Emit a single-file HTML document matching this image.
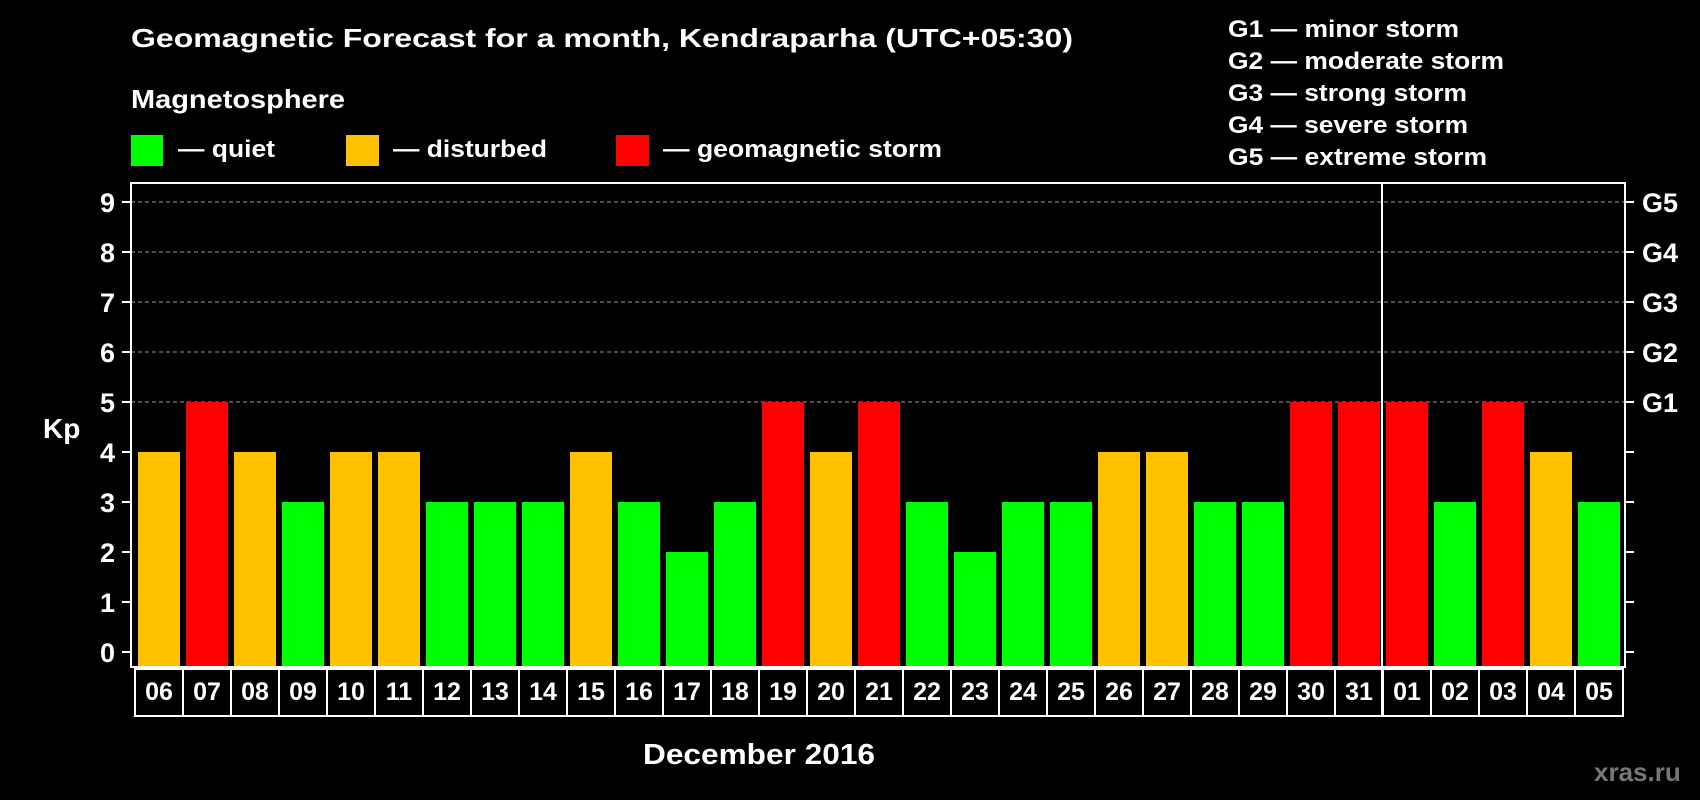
<!DOCTYPE html>
<html><head><meta charset="utf-8"><style>
html,body{margin:0;padding:0;background:#000;}
svg{display:block;font-family:"Liberation Sans",Arial,sans-serif;font-weight:bold;}
</style></head><body>
<svg id="chart" width="1700" height="800" viewBox="0 0 1700 800" xmlns="http://www.w3.org/2000/svg">
<rect width="1700" height="800" fill="#000"/>
<text x="131" y="47" font-size="26" fill="#fff" textLength="942" lengthAdjust="spacingAndGlyphs">Geomagnetic Forecast for a month, Kendraparha (UTC+05:30)</text>
<text x="131" y="108" font-size="26" fill="#fff" textLength="214" lengthAdjust="spacingAndGlyphs">Magnetosphere</text>
<rect x="131" y="135" width="32" height="31" fill="#00ff00"/>
<text x="178" y="157" font-size="24" fill="#fff" textLength="97" lengthAdjust="spacingAndGlyphs">— quiet</text>
<rect x="346" y="135" width="33" height="31" fill="#ffc000"/>
<text x="393" y="157" font-size="24" fill="#fff" textLength="154" lengthAdjust="spacingAndGlyphs">— disturbed</text>
<rect x="616" y="135" width="33" height="31" fill="#ff0000"/>
<text x="663" y="157" font-size="24" fill="#fff" textLength="279" lengthAdjust="spacingAndGlyphs">— geomagnetic storm</text>
<g font-size="24" fill="#fff">
<text x="1228" y="37" textLength="231" lengthAdjust="spacingAndGlyphs">G1 — minor storm</text>
<text x="1228" y="69" textLength="276" lengthAdjust="spacingAndGlyphs">G2 — moderate storm</text>
<text x="1228" y="101" textLength="239" lengthAdjust="spacingAndGlyphs">G3 — strong storm</text>
<text x="1228" y="133" textLength="240" lengthAdjust="spacingAndGlyphs">G4 — severe storm</text>
<text x="1228" y="165" textLength="259" lengthAdjust="spacingAndGlyphs">G5 — extreme storm</text>
</g>
<g id="plot"></g>
<text x="43" y="438" font-size="28" fill="#fff">Kp</text>
<text x="643" y="764" font-size="29" fill="#fff" textLength="232" lengthAdjust="spacingAndGlyphs">December 2016</text>
<text x="1594" y="781" font-size="26" fill="#777">xras.ru</text>
</svg>
<script>
const days = ["06","07","08","09","10","11","12","13","14","15","16","17","18","19","20","21","22","23","24","25","26","27","28","29","30","31","01","02","03","04","05"];
const kpValues = [4,5,4,3,4,4,3,3,3,4,3,2,3,5,4,5,3,2,3,3,4,4,3,3,5,5,5,3,5,4,3];
const yTicks = [0,1,2,3,4,5,6,7,8,9];
const gLabels = ["G1","G2","G3","G4","G5"];
const gLevels = [5,6,7,8,9];
const monthBreakIndex = 26;

const NS = "http://www.w3.org/2000/svg";
const plot = document.getElementById("plot");
const fL = 131, fR = 1625, fT = 183, fB = 667;
const y0 = 652, unit = 50;
const cellL = 135, pitch = (1623 - 135) / days.length;
const yS = v => y0 - v * unit;
const xS = i => cellL + i * pitch;
function mk(tag, attrs){ const e = document.createElementNS(NS, tag); for (const k in attrs) e.setAttribute(k, attrs[k]); plot.appendChild(e); return e; }

gLevels.forEach((lv, i) => {
  const g = mk("line", {x1: fL, x2: fR, y1: yS(lv), y2: yS(lv), stroke: "#999", "stroke-width": 1, "stroke-dasharray": "4,3"});
  
  
  const t = mk("text", {x: 1642, y: yS(lv) + 10, "font-size": 27, fill: "#fff"});
  t.textContent = gLabels[i];
  
  
});
yTicks.forEach(v => {
  const tk = mk("line", {x1: 122, x2: fL, y1: yS(v), y2: yS(v), stroke: "#fff", "stroke-width": 2});
  
  
  const tr = mk("line", {x1: fR, x2: 1634, y1: yS(v), y2: yS(v), stroke: "#fff", "stroke-width": 2});
  
  
  const t = mk("text", {x: 115, y: yS(v) + 10, "font-size": 27, fill: "#fff", "text-anchor": "end"});
  t.textContent = v;
  
  
});
kpValues.forEach((v, i) => {
  const col = v >= 5 ? "#ff0000" : (v >= 4 ? "#ffc000" : "#00ff00");
  const b = mk("rect", {x: xS(i) + 3, y: yS(v), width: pitch - 6, height: fB - yS(v), fill: col});
  
  
  const c = mk("rect", {x: xS(i), y: 669, width: pitch, height: 47, fill: "none", stroke: "#fff", "stroke-width": 2});
  
  
  const t = mk("text", {x: xS(i) + pitch / 2, y: 700, "font-size": 25, fill: "#fff", "text-anchor": "middle"});
  t.textContent = days[i];
  
  
});
const fr = mk("rect", {x: fL, y: fT, width: fR - fL, height: fB - fT, fill: "none", stroke: "#fff", "stroke-width": 2});


const dv = mk("line", {x1: xS(monthBreakIndex) - 1, x2: xS(monthBreakIndex) - 1, y1: fT, y2: 716, stroke: "#fff", "stroke-width": 2});


</script>
</body></html>
